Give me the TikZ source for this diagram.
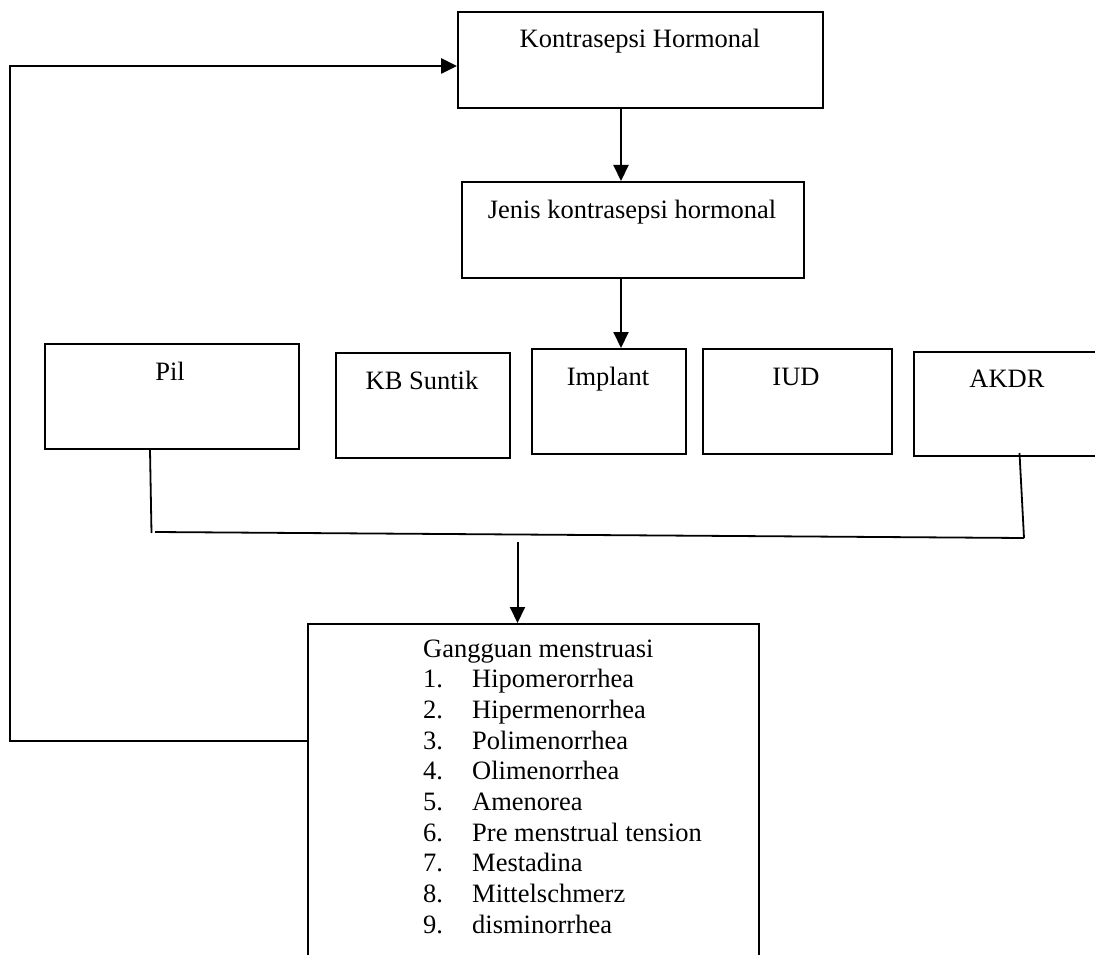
\documentclass[tikz,border=0pt]{standalone}
\usepackage{fontspec}
\setmainfont{Liberation Serif}
\usetikzlibrary{arrows.meta}
\begin{document}
\begin{tikzpicture}[x=1pt,y=-1pt,
  box/.style={draw, line width=2pt, anchor=north west, inner sep=0pt},
  txt/.style={font=\fontsize{26.5}{30.7}\selectfont, inner sep=0pt, anchor=base},
  conn/.style={line width=1.8pt},
  arr/.style={line width=2pt, -{Triangle[length=16pt,width=15pt]}}]
\useasboundingbox (0,0) rectangle (1095,955);
% boxes
\node[box, minimum width=365pt, minimum height=96pt] (k) at (457,11) {};
\node[box, minimum width=342pt, minimum height=96pt] (j) at (461,181) {};
\node[box, minimum width=254pt, minimum height=105pt] (pil) at (44,343) {};
\node[box, minimum width=174pt, minimum height=105pt] (kb) at (335,352) {};
\node[box, minimum width=154pt, minimum height=105pt] (imp) at (531,348) {};
\node[box, minimum width=189pt, minimum height=105pt] (iud) at (702,348) {};
\node[box, minimum width=190pt, minimum height=104pt] (akdr) at (913,351) {};
\node[box, minimum width=451pt, minimum height=345pt] (g) at (307,623) {};
% texts
\node[txt] (kt) at (640,48) {Kontrasepsi Hormonal};
\node[txt] (jt) at (632,218) {Jenis kontrasepsi hormonal};
\node[txt] (pilt) at (170,380) {Pil};
\node[txt] (kbt) at (422,389) {KB Suntik};
\node[txt] (impt) at (608,385) {Implant};
\node[txt] (iudt) at (796,385) {IUD};
\node[txt] (akdrt) at (1007,387) {AKDR};
\node[font=\fontsize{26.5}{30.7}\selectfont, inner sep=0pt, anchor=base west] (gt) at (423,657) {%
  \begin{tabular}[t]{@{}p{49pt}@{}l@{}}
  \multicolumn{2}{@{}l@{}}{Gangguan menstruasi}\\
  1. & Hipomerorrhea\\
  2. & Hipermenorrhea\\
  3. & Polimenorrhea\\
  4. & Olimenorrhea\\
  5. & Amenorea\\
  6. & Pre menstrual tension\\
  7. & Mestadina\\
  8. & Mittelschmerz\\
  9. & disminorrhea
  \end{tabular}};
% coordinates
\coordinate (tx) at (621,0);
\coordinate (lb) at (10,741);
\coordinate (lt) at (10,66);
\coordinate (pb) at (151.5,533);
\coordinate (hl) at (155,532);
\coordinate (hr) at (1024,538);
\coordinate (ab) at (1019.5,453);
\coordinate (ds) at (517.5,542);
% connectors
\draw[arr, line width=2.6pt] (g.west |- lb) -- (lb) -- (lt) -- (k.west |- lt);
\draw[arr] (k.south -| tx) -- (j.north -| tx);
\draw[arr] (j.south -| tx) -- (imp.north -| tx);
\draw[conn] (pil.south -| 150,0) -- (pb);
\draw[conn] (hl) -- (hr);
\draw[conn] (ab) -- (hr);
\draw[arr] (ds) -- (g.north -| ds);
\end{tikzpicture}
\end{document}
